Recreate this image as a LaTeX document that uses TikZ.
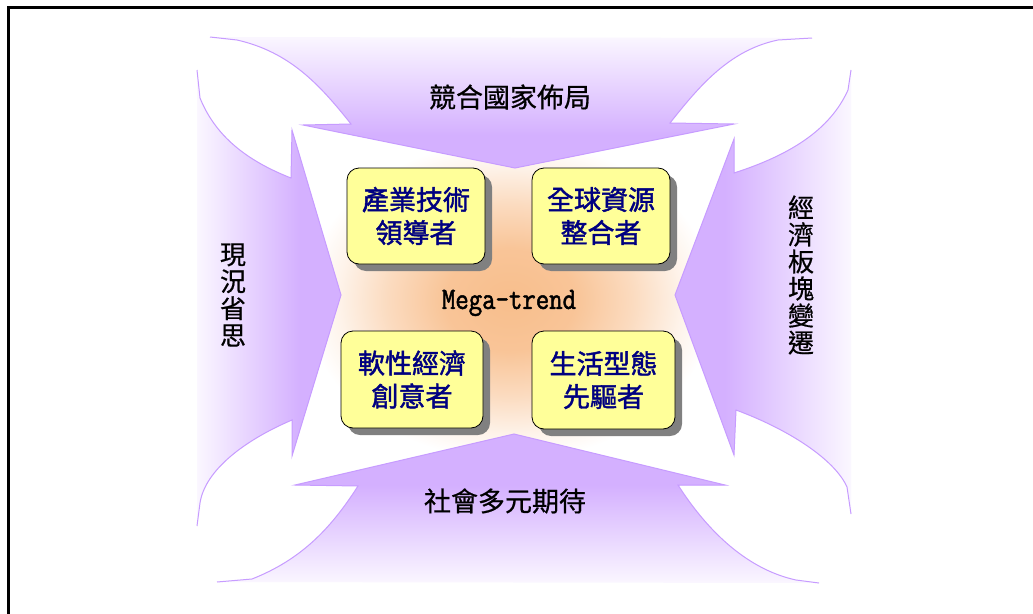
\documentclass[tikz,border=0pt]{standalone}
\usepackage{fontspec}
\newfontfamily\cjk[FakeBold=0.6]{Noto Sans CJK TC}
\newfontfamily\cjkbox[FakeBold=1.6]{Noto Sans CJK TC}
\newfontfamily\megafont[FakeBold=1.6, FakeStretch=0.84]{Latin Modern Mono}
\usetikzlibrary{shadows}
\definecolor{apurple}{HTML}{D4B0FF}
\definecolor{aline}{HTML}{C79CFF}
\definecolor{boxyellow}{HTML}{FFFF99}
\definecolor{navy}{HTML}{000080}
\definecolor{glowc}{HTML}{F8BE8C}
\definecolor{shadowgray}{HTML}{808080}
\pgfdeclareradialshading{glow}{\pgfpoint{0bp}{0bp}}{color(0bp)=(glowc); color(8bp)=(glowc!90); color(15bp)=(glowc!55); color(21bp)=(glowc!18); color(25bp)=(white); color(50bp)=(white)}
\tikzset{
  ybox/.style={draw=black, line width=0.8pt, fill=boxyellow, rounded corners=12pt,
    align=center, inner sep=0pt, text=navy,
    font=\cjkbox\fontsize{27}{33}\selectfont,
    drop shadow={shadow xshift=7pt, shadow yshift=-7pt, fill=shadowgray, opacity=1}},
  lbl/.style={font=\cjk\fontsize{27}{27}\selectfont, inner sep=0pt, text=black},
  vlbl/.style={font=\cjk\fontsize{26}{27}\selectfont, inner sep=0pt, align=center, text=black},
  outline/.style={draw=aline, line width=1pt},
  ptop/.style={insert path={(210,37) -- (237,40) .. controls (290,52) and (320,85) .. (351,124) -- (303,125) -- (515,168) -- (734,124) -- (670,123) .. controls (700,85) and (730,50) .. (778,40) -- (812,38)}},
  pleft/.style={insert path={(197,70) -- (200,98) .. controls (215,135) and (245,160) .. (291,178) -- (292,130) -- (341,295) -- (292,456) -- (292,420) .. controls (245,440) and (205,470) .. (200,503) -- (197,526)}},
  pbottom/.style={insert path={(217,582) -- (252,579) .. controls (300,560) and (330,530) .. (358,486) -- (295,485) -- (514,434) -- (725,485) -- (678,485) .. controls (710,535) and (750,570) .. (796,580) -- (819,583)}},
  pright/.style={insert path={(851,70) -- (848,90) .. controls (830,130) and (790,155) .. (734,173) -- (734,139) -- (675,295) -- (734,455) -- (736,410) .. controls (790,430) and (835,460) .. (847,487) -- (851,514)}}
}
\begin{document}
\begin{tikzpicture}[x=1pt, y=-1pt]
\useasboundingbox (0,0) rectangle (1033,613);
\fill[white] (0,0) rectangle (1033,613);
% orange glow
\shade[shading=glow] (510,300) ellipse [x radius=205, y radius=160];
% top arrow
\begin{scope}
  \clip[ptop];
  \fill[apurple] (190,130) rectangle (830,175);
  \shade[top color=white, bottom color=apurple] (190,25) rectangle (830,135);
\end{scope}
\draw[outline, ptop];
% left arrow
\begin{scope}
  \clip[pleft];
  \fill[apurple] (295,60) rectangle (345,540);
  \shade[left color=white, right color=apurple] (185,60) rectangle (300,540);
\end{scope}
\draw[outline, pleft];
% bottom arrow
\begin{scope}
  \clip[pbottom];
  \fill[apurple] (190,430) rectangle (830,490);
  \shade[top color=apurple, bottom color=white] (190,485) rectangle (830,595);
\end{scope}
\draw[outline, pbottom];
% right arrow
\begin{scope}
  \clip[pright];
  \fill[apurple] (670,60) rectangle (730,530);
  \shade[left color=apurple, right color=white] (725,60) rectangle (865,530);
\end{scope}
\draw[outline, pright];
% frame
\begin{scope}
  \clip (0,0) rectangle (1033,613);
  \draw[line width=3pt] (8.5,7.5) rectangle (1100,700);
\end{scope}
% boxes
\node[ybox, minimum width=138pt, minimum height=96pt] (b1) at (416,216) {產業技術\\領導者};
\node[ybox, minimum width=138pt, minimum height=96pt] (b2) at (601,216) {全球資源\\整合者};
\node[ybox, minimum width=142pt, minimum height=97pt] (b3) at (412,379.5) {軟性經濟\\創意者};
\node[ybox, minimum width=143pt, minimum height=98pt] (b4) at (603.5,380) {生活型態\\先驅者};
% center text
\node[font=\megafont\fontsize{31}{33}\selectfont, inner sep=0pt] (mt) at (509,303) {Mega-trend};
% labels
\node[lbl] (lt) at (510,97) {競合國家佈局};
\node[lbl] (lb) at (505,501) {社會多元期待};
\node[vlbl] (ll) at (233,295) {現\\況\\省\\思};
\node[vlbl] (lr) at (801,275) {經\\濟\\板\\塊\\變\\遷};
\end{tikzpicture}
\end{document}
